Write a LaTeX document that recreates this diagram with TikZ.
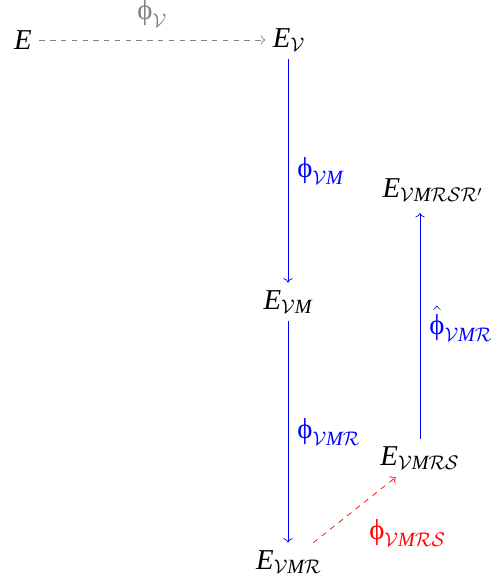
\documentclass[tikz,border=0pt]{standalone}
\usepackage{amsmath}
\usepackage{fontspec}
\setmainfont{Liberation Serif}
\usepackage{tikz}
\usetikzlibrary{arrows.meta, positioning, calc}
\newcommand{\ph}{\text{ϕ}}
\newcommand{\vE}{\textit{E}}
\newcommand{\vM}{\textit{M}}
\tikzset{
  obj/.style={inner sep=4pt, font=\fontsize{16}{19}\selectfont},
  mapline/.style={->, thin},
  maplabel/.style={font=\fontsize{16}{19}\selectfont, inner sep=5pt},
}

\begin{document}
\begin{tikzpicture}[x=0.556pt, y=-0.556pt]
\useasboundingbox (0,0) rectangle (499,585);
\node[obj] (E) at (23,40) {$\vE$};
\node[obj] (EV) at (289,40) {$\vE_{\mathcal{V}}$};
\node[obj] (EVM) at (288,302) {$\vE_{\mathcal{V}\vM}$};
\node[obj] (EVMR) at (289,562) {$\vE_{\mathcal{V}\vM\mathcal{R}}$};
\node[obj] (EVMRS) at (420,458) {$\vE_{\mathcal{V}\vM\mathcal{R}\mathcal{S}}$};
\node[obj] (EVMRSR) at (433,190) {$\vE_{\mathcal{V}\vM\mathcal{R}\mathcal{S}\mathcal{R}'}$};

\draw[mapline, gray, dashed] (E) -- node[above, maplabel, yshift=2pt] {$\ph_{\mathcal{V}}$} (EV);
\draw[mapline, blue] (EV.south -| EVM) -- node[right, maplabel] {$\ph_{\mathcal{V}\vM}$} (EVM);
\draw[mapline, blue] (EVM) -- node[right, maplabel] {$\ph_{\mathcal{V}\vM\mathcal{R}}$} (EVMR.north -| EVM);
\draw[mapline, red, dashed] (EVMR) -- node[anchor=north west, maplabel, xshift=3pt] {$\ph_{\mathcal{V}\vM\mathcal{R}\mathcal{S}}$} (EVMRS);
\draw[mapline, blue, shorten >=2pt] (EVMRS) -- node[right, maplabel] {$\hat{\ph}_{\mathcal{V}\vM\mathcal{R}}$} (EVMRS |- EVMRSR.south);
\end{tikzpicture}
\end{document}
